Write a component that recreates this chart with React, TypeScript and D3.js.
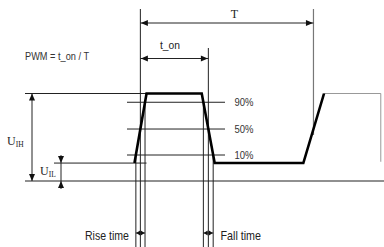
import React from "react";
import * as d3 from "d3";

const W = 384;
const H = 247;

// Waveform: time in % of period T, voltage relative to U_IH
const waveTime = [-3.5, 3.5, 35.5, 43.0, 94.4, 106.4];
const waveVolt = [0.205, 1, 1, 0.205, 0.205, 1];
const tailTime = [106.4, 139.3, 139.3];
const tailVolt = [1, 1, 0.22];
const levelVolt = [0.9, 0.594, 0.297];
const levelLabels = ["90%", "50%", "10%"];
const U_IH = 1;
const U_IL = 0.205;

const xScale = d3.scaleLinear().domain([0, 100]).range([140.5, 313]);
const yScale = d3.scaleLinear().domain([0, 1]).range([181, 93.5]);

function crossing(i0: number, v: number) {
  const t0 = waveTime[i0], t1 = waveTime[i0 + 1];
  const v0 = waveVolt[i0], v1 = waveVolt[i0 + 1];
  return t0 + ((v - v0) / (v1 - v0)) * (t1 - t0);
}

const SANS = "'Liberation Sans', Arial, sans-serif";
const SERIF = "'Liberation Serif', 'Times New Roman', serif";

function Head({ x, y, dir, len = 7, w = 3 }: { x: number; y: number; dir: "l" | "r" | "u" | "d"; len?: number; w?: number }) {
  let pts: number[][];
  if (dir === "l") pts = [[x, y], [x + len, y - w], [x + len, y + w]];
  else if (dir === "r") pts = [[x, y], [x - len, y - w], [x - len, y + w]];
  else if (dir === "u") pts = [[x, y], [x - w, y + len], [x + w, y + len]];
  else pts = [[x, y], [x - w, y - len], [x + w, y - len]];
  return <polygon points={pts.map((p) => p.join(",")).join(" ")} fill="#111" />;
}

export default function App() {
  const line = d3.line<number>().x((_, i) => xScale(waveTime[i])).y((d) => yScale(d));
  const tail = d3.line<number>().x((_, i) => xScale(tailTime[i])).y((d) => yScale(d));

  const [v90, v50, v10] = levelVolt;
  const r10 = xScale(crossing(0, v10));
  const r50 = xScale(crossing(0, v50));
  const r90 = xScale(crossing(0, v90));
  const f90 = xScale(crossing(2, v90));
  const f50 = xScale(crossing(2, v50));
  const f10 = xScale(crossing(2, v10));
  const r2_50 = xScale(crossing(4, v50));
  const riseTop = xScale(waveTime[1]);

  const y0 = yScale(0);
  const yH = yScale(U_IH);
  const yL = yScale(U_IL);
  const stroke = "#222";
  const yT = 23;
  const yOn = 58.5;
  const yRF = 233;

  return (
    <svg width={W} height={H} style={{ position: "absolute", left: 0, top: 0, background: "#fff" }}>
      {/* baseline and reference lines */}
      <line x1={25} x2={W} y1={y0} y2={y0} stroke={stroke} strokeWidth={1.1} />
      <line x1={25} x2={riseTop} y1={yH} y2={yH} stroke={stroke} strokeWidth={1} />
      <line x1={54} x2={riseTop} y1={yL} y2={yL} stroke={stroke} strokeWidth={1} />
      {levelVolt.map((v, i) => (
        <g key={i}>
          <line x1={127} x2={225} y1={yScale(v)} y2={yScale(v)} stroke={stroke} strokeWidth={1} />
          <text x={234.5} y={yScale(v) + 4} fontFamily={SANS} fontSize={11} fill="#333" textLength={19} lengthAdjust="spacingAndGlyphs">
            {levelLabels[i]}
          </text>
        </g>
      ))}

      {/* vertical markers */}
      <line x1={r50} x2={r50} y1={9} y2={H} stroke={stroke} strokeWidth={1} />
      <line x1={r10} x2={r10} y1={yScale(v10)} y2={H} stroke={stroke} strokeWidth={1} />
      <line x1={r90} x2={r90} y1={yScale(v90)} y2={H} stroke={stroke} strokeWidth={1} />
      <line x1={f50} x2={f50} y1={48} y2={H} stroke={stroke} strokeWidth={1} />
      <line x1={f90} x2={f90} y1={yScale(v90)} y2={H} stroke={stroke} strokeWidth={1} />
      <line x1={f10} x2={f10} y1={yScale(v10)} y2={H} stroke={stroke} strokeWidth={1} />
      <line x1={r2_50} x2={r2_50} y1={9} y2={yScale(0.526)} stroke="#777" strokeWidth={1.2} />

      {/* waveform */}
      <path d={tail(tailVolt) || ""} fill="none" stroke="#999" strokeWidth={1} />
      <path d={line(waveVolt) || ""} fill="none" stroke="#000" strokeWidth={2.6} strokeLinejoin="miter" />

      {/* T arrow */}
      <line x1={r50} x2={r2_50} y1={yT} y2={yT} stroke={stroke} strokeWidth={1} />
      <Head x={r50 + 0.5} y={yT} dir="l" />
      <Head x={r2_50 - 0.5} y={yT} dir="r" />
      <text x={234.5} y={18} textAnchor="middle" fontFamily={SERIF} fontSize={12} fill="#222">T</text>

      {/* t_on arrow */}
      <line x1={r50} x2={f50} y1={yOn} y2={yOn} stroke={stroke} strokeWidth={1} />
      <Head x={r50 + 0.5} y={yOn} dir="l" />
      <Head x={f50 - 0.5} y={yOn} dir="r" />
      <text x={160} y={49} fontFamily={SANS} fontSize={11.5} fill="#222" textLength={20} lengthAdjust="spacingAndGlyphs">t_on</text>

      <text x={25} y={60} fontFamily={SANS} fontSize={11.5} fill="#333" textLength={64} lengthAdjust="spacingAndGlyphs">PWM = t_on / T</text>

      {/* U_IH arrow */}
      <line x1={32} x2={32} y1={yH} y2={y0} stroke={stroke} strokeWidth={1} />
      <Head x={32} y={yH} dir="u" />
      <Head x={32} y={y0} dir="d" />
      <text x={7} y={145} fontFamily={SERIF} fontSize={12} fill="#222">
        U<tspan fontSize={7.5} dy={2}>IH</tspan>
      </text>

      {/* U_IL arrows */}
      <line x1={61} x2={61} y1={yL - 8} y2={y0 + 8} stroke={stroke} strokeWidth={1} />
      <Head x={61} y={yL} dir="d" />
      <Head x={61} y={y0} dir="u" />
      <text x={40} y={175} fontFamily={SERIF} fontSize={12} fill="#222">
        U<tspan fontSize={7.5} dy={2}>IL</tspan>
      </text>

      {/* rise / fall time */}
      <line x1={r10} x2={r90} y1={yRF} y2={yRF} stroke={stroke} strokeWidth={1} />
      <Head x={r10 + 0.3} y={yRF} dir="l" len={4} w={2.5} />
      <Head x={r90 - 0.3} y={yRF} dir="r" len={4} w={2.5} />
      <text x={85} y={239.5} fontFamily={SANS} fontSize={13} fill="#222" textLength={44} lengthAdjust="spacingAndGlyphs">Rise time</text>
      <line x1={f90} x2={f10} y1={yRF} y2={yRF} stroke={stroke} strokeWidth={1} />
      <Head x={f90 + 0.3} y={yRF} dir="l" len={4} w={2.5} />
      <Head x={f10 - 0.3} y={yRF} dir="r" len={4} w={2.5} />
      <text x={220.5} y={239.5} fontFamily={SANS} fontSize={13} fill="#222" textLength={40.5} lengthAdjust="spacingAndGlyphs">Fall time</text>
    </svg>
  );
}
